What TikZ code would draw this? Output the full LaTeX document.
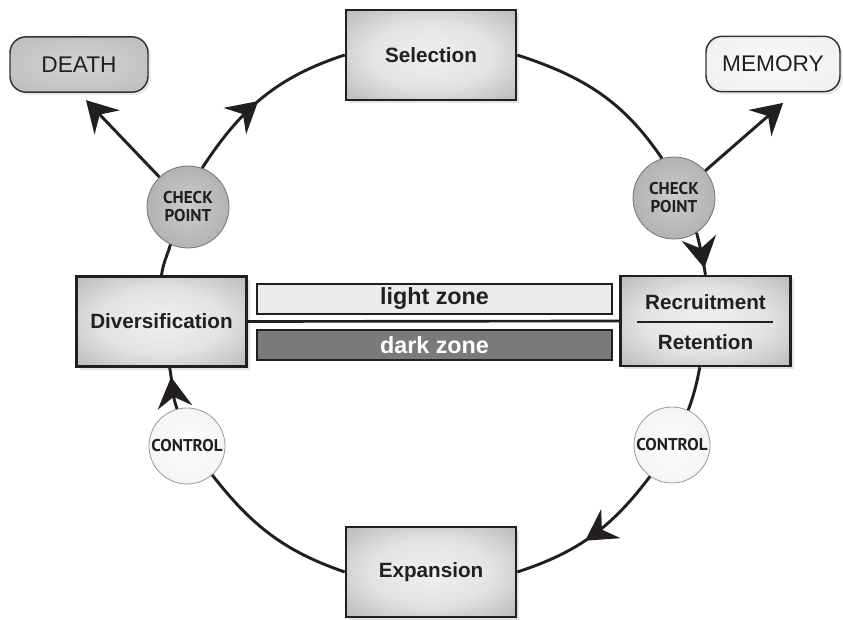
\documentclass[tikz,border=0pt]{standalone}
\usepackage{fontspec}
\setmainfont{Liberation Sans}
\newfontfamily\cpfont{PT Sans}
\usetikzlibrary{arrows.meta,shadows,decorations.markings,calc}
\definecolor{ink}{HTML}{231F20}
\pgfdeclareradialshading{boxshade}{\pgfpoint{0bp}{0bp}}{color(0bp)=(black!6); color(18bp)=(black!11); color(50bp)=(black!40); color(71bp)=(black!54)}
\pgfdeclareradialshading{cpshade}{\pgfpoint{0bp}{0bp}}{color(0bp)=(black!20); color(25bp)=(black!30); color(50bp)=(black!54)}
\pgfdeclareradialshading{ctrlshade}{\pgfpoint{0bp}{0bp}}{color(0bp)=(black!1); color(25bp)=(black!4); color(50bp)=(black!16)}
\pgfdeclareradialshading{deathshade}{\pgfpoint{0bp}{0bp}}{color(0bp)=(black!17); color(50bp)=(black!30); color(71bp)=(black!38)}
\pgfdeclareradialshading{memshade}{\pgfpoint{0bp}{0bp}}{color(0bp)=(black!2); color(50bp)=(black!8); color(71bp)=(black!13)}
\begin{document}
\begin{tikzpicture}[x=0.75pt,y=0.75pt,
  >={Stealth[length=23pt,width=26pt,inset=8pt]},
  box/.style={draw=ink, line width=1.9pt, shading=boxshade, minimum width=127.5pt, minimum height=67.5pt, inner sep=0pt,
    font=\fontsize{15.5}{18}\selectfont\bfseries, text=ink,
    drop shadow={shadow xshift=2.5pt, shadow yshift=-2.5pt, opacity=0.22}},
  boxtxt/.style={inner sep=0pt, font=\fontsize{15.5}{18}\selectfont\bfseries, text=ink},
  outbox/.style={draw=black!80, line width=1.1pt, rounded corners=12pt, minimum height=41.5pt, inner sep=0pt,
    font=\fontsize{17}{20}\selectfont, text=ink,
    drop shadow={shadow xshift=2pt, shadow yshift=-2pt, opacity=0.18}},
  cp/.style={circle, draw=black!55, line width=0.6pt, shading=cpshade, minimum size=61.5pt, inner sep=0pt, align=center,
    font=\cpfont\bfseries\fontsize{12.8}{13.5}\selectfont, text=ink},
  ctrl/.style={circle, draw=black!40, line width=0.6pt, shading=ctrlshade, minimum size=57pt, inner sep=0pt,
    font=\cpfont\bfseries\fontsize{12.8}{13.5}\selectfont, text=ink},
  zone/.style={draw=ink, line width=1.5pt, minimum width=266pt, minimum height=22.5pt, inner sep=0pt,
    font=\fontsize{17.5}{19}\selectfont\bfseries},
  ring/.style={draw=ink, line width=2.2pt},
  midarrow/.style={postaction={decorate}, decoration={markings, mark=at position #1 with {\arrow{>}}}},
  endmark/.style={postaction={decorate}, decoration={markings, mark=at position -#1 with {\arrow{>}}}}
]
\useasboundingbox (0,0) rectangle (843,620);

% main boxes
\node[box] (sel) at (431,565) {Selection};
\node[box] (exp) at (431,48) {Expansion};
\node[box] (div) at (161.5,298.5) {Diversification};
\node[box] (rec) at (705.5,299) {};
\node[boxtxt] (recA) at (705.5,318) {Recruitment};
\node[boxtxt] (recB) at (705.5,278) {Retention};
\draw[ink, line width=1.5pt] ($(rec.center)+(-69,-1)$) -- ($(rec.center)+(67,-1)$);

% outcome boxes
\node[outbox, shading=deathshade, minimum width=103.5pt] (death) at (79,555.5) {DEATH};
\node[outbox, shading=memshade, minimum width=100.5pt] (mem) at (773,556) {MEMORY};

% checkpoints and controls
\node[cp] (cpL) at (188,413) {CHECK\\POINT};
\node[cp] (cpR) at (674,422) {CHECK\\POINT};
\node[ctrl] (ctL) at (187,174) {CONTROL};
\node[ctrl] (ctR) at (672,175) {CONTROL};

% middle line and zones
\draw[ink, line width=2pt] (div.east) -- (rec.west);
\node[zone, fill=black!8, text=ink] (light) at (434.5,321) {light zone};
\node[zone, fill=black!52, text=white] (dark) at (434.5,274.5) {dark zone};

% cycle
\draw[ring] (sel.east) to[out=-18,in=124] (cpR.107);
\draw[ring, endmark=5pt] (cpR.-57) to[out=-75,in=100] (rec.north);
\draw[ring] (rec.-97) to[out=-101,in=70] (ctR.65);
\draw[ring, midarrow=0.55] (ctR.-125) to[out=-127,in=18] (exp.east);
\draw[ring] (exp.west) to[out=161,in=-52] (ctL.-49);
\draw[ring, endmark=7pt] (ctL.105) to[out=110,in=-79] (div.-80);
\draw[ring] (div.north) to[out=82,in=-107] (cpL.-115);
\draw[ring, midarrow=0.47] (cpL.70) to[out=57,in=198] (sel.west);

% exits
\draw[ring, ->, shorten >=7.5pt] (cpL) -- (death.south);
\draw[ring, ->, shorten >=12pt] (cpR) -- (mem.-52);
\end{tikzpicture}
\end{document}
